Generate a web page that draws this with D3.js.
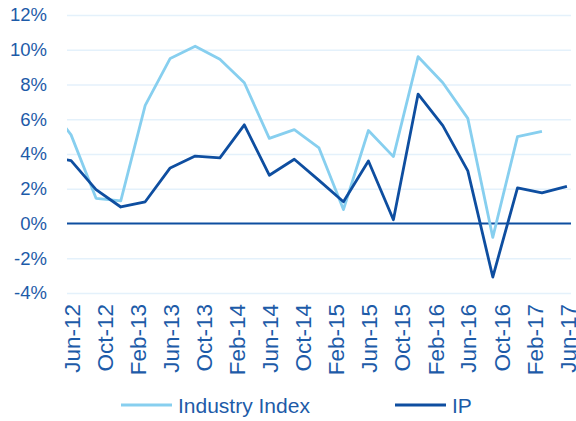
<!DOCTYPE html>
<html>
<head>
<meta charset="utf-8">
<script src="https://cdn.jsdelivr.net/npm/d3@7"></script>
<style>
  html, body { margin: 0; padding: 0; background: #fff; }
  svg { display: block; font-family: "Liberation Sans", Arial, sans-serif; }
</style>
</head>
<body>
<svg id="chart" width="576" height="421"></svg>
<script>
// Quarterly observations (month of observation)
const periods = ["2012-03","2012-06","2012-09","2012-12","2013-03","2013-06","2013-09","2013-12",
                 "2014-03","2014-06","2014-09","2014-12","2015-03","2015-06","2015-09","2015-12",
                 "2016-03","2016-06","2016-09","2016-12","2017-03","2017-06"];
const industryIndex = [7.0, 5.1, 1.45, 1.3, 6.8, 9.5, 10.2, 9.45, 8.1, 4.9, 5.4, 4.35, 0.8, 5.35, 3.85, 9.6,
                       8.1, 6.05, -0.8, 5.0, 5.3, null];
const ipValues = [3.9, 3.62, 1.95, 0.95, 1.25, 3.2, 3.88, 3.78, 5.68, 2.78, 3.7, 2.48, 1.25, 3.6, 0.22, 7.45,
                  5.63, 3.03, -3.08, 2.05, 1.76, 2.14];
const xTickMonths = ["2012-06","2012-10","2013-02","2013-06","2013-10","2014-02","2014-06","2014-10",
                     "2015-02","2015-06","2015-10","2016-02","2016-06","2016-10","2017-02","2017-06"];
const yTicks = [-4, -2, 0, 2, 4, 6, 8, 10, 12];
const seriesNames = ["Industry Index", "IP"];

const colors = { industry: "#87cfef", ip: "#0e4ea0", grid: "#e4f1fb", text: "#1d5ba8", zero: "#0e4ea0" };

const svg = d3.select("#chart");
const plotLeft = 67, plotRight = 571, plotTop = 15, plotBottom = 293;

const parseM = d3.timeParse("%Y-%m");
const midMonth = s => { const d = parseM(s); return new Date(d.getFullYear(), d.getMonth(), 16); };

const x = d3.scaleTime()
  .domain([new Date(2012, 5, 1), new Date(2017, 6, 1)])
  .range([plotLeft, plotRight]);
const y = d3.scaleLinear().domain([-4, 12]).range([plotBottom, plotTop]);

// clip
svg.append("defs").append("clipPath").attr("id", "plotclip")
  .append("rect").attr("x", plotLeft).attr("y", 0).attr("width", plotRight - plotLeft).attr("height", 421);

// gridlines + y labels
const yAxis = d3.axisLeft(y).tickValues(yTicks).tickSize(-(plotRight - plotLeft)).tickFormat(d => d + "%");
const gy = svg.append("g").attr("transform", `translate(${plotLeft},0)`).call(yAxis);
gy.select(".domain").remove();
gy.selectAll(".tick line").attr("stroke", d => d === 0 ? "none" : colors.grid).attr("stroke-width", 1.5);
gy.selectAll(".tick text")
  .attr("fill", colors.text).style("font-size", "18.5px").attr("x", -20);

// zero line
svg.append("line").attr("x1", plotLeft).attr("x2", plotRight).attr("y1", y(0)).attr("y2", y(0))
  .attr("stroke", colors.zero).attr("stroke-width", 2);

// x axis labels
const xAxis = d3.axisBottom(x).tickValues(xTickMonths.map(midMonth)).tickSize(0)
  .tickFormat(d3.timeFormat("%b-%y"));
const gx = svg.append("g").attr("transform", `translate(0,${plotBottom})`).call(xAxis);
gx.select(".domain").remove();
gx.selectAll(".tick text")
  .attr("fill", colors.text).style("font-size", "22.5px")
  .attr("text-anchor", "end")
  .attr("transform", "rotate(-90)")
  .attr("x", -11).attr("y", 0).attr("dy", "0.36em");

// lines
const data = periods.map((p, i) => ({ date: midMonth(p), industry: industryIndex[i], ip: ipValues[i] }));
const lineFor = key => d3.line()
  .defined(d => d[key] !== null)
  .x(d => x(d.date)).y(d => y(d[key]));

const plot = svg.append("g").attr("clip-path", "url(#plotclip)");
plot.append("path").datum(data).attr("d", lineFor("industry"))
  .attr("fill", "none").attr("stroke", colors.industry).attr("stroke-width", 2.8).attr("stroke-linejoin", "round");
plot.append("path").datum(data).attr("d", lineFor("ip"))
  .attr("fill", "none").attr("stroke", colors.ip).attr("stroke-width", 2.8).attr("stroke-linejoin", "round");

// legend
const legend = svg.append("g").attr("transform", "translate(0,405)");
const legendItems = [
  { name: seriesNames[0], color: colors.industry, x: 121 },
  { name: seriesNames[1], color: colors.ip, x: 395 }
];
legendItems.forEach(it => {
  legend.append("line").attr("x1", it.x).attr("x2", it.x + 51).attr("y1", 0).attr("y2", 0)
    .attr("stroke", it.color).attr("stroke-width", 2.8);
  legend.append("text").attr("x", it.x + 57).attr("y", 0).attr("dy", "0.36em")
    .attr("fill", colors.text).style("font-size", "21px").text(it.name);
});
</script>
</body>
</html>
